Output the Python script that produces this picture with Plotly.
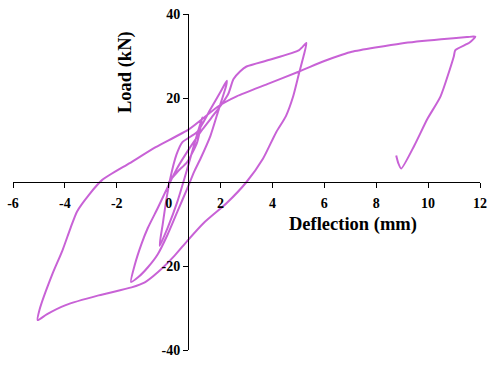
import plotly.graph_objects as go

# Cycle 1 (small loop near origin)
c1_x = [0.0, 0.35, 0.72, 1.10, 1.29, 0.72, 0.34, -0.04, -0.35]
c1_y = [0.0, 2.5, 4.8, 9.5, 15.4, 3.2, -4.6, -10.9, -15.2]

# Cycle 2 (peak ~2.2 mm)
c2_x = [-0.23, -0.10, 0.05, 0.30, 0.53, 1.10, 1.61, 2.00, 2.24,
        2.22, 1.93, 1.61, 1.23, 0.98, 0.72, 0.34, -0.04, -0.42, -0.80, -1.18, -1.45]
c2_y = [-10.1, -4.6, 0.5, 6.5, 9.5, 11.9, 17.3, 21.5, 24.1,
        23.0, 17.3, 11.0, 5.6, 2.4, -1.5, -7.0, -12.5, -17.2, -20.3, -22.7, -23.8]

# Cycle 3 (peak ~5.3 mm)
c3_x = [-1.30, -1.05, -0.80, -0.42, -0.10, 0.30, 0.80, 1.30, 1.80, 2.10, 2.30, 2.50,
        2.75, 3.00, 3.89, 5.03, 5.31,
        5.20, 5.03, 4.80, 4.52, 4.14, 3.64, 3.00, 2.24, 1.36, 0.72, 0.22, -0.42, -0.92,
        -1.43, -2.70, -3.97, -4.70, -5.05]
c3_y = [-19.6, -14.8, -10.9, -6.2, -2.0, 3.0, 8.0, 12.5, 16.5, 19.0, 21.0, 24.5,
        26.3, 27.5, 29.1, 31.4, 33.1,
        30.0, 26.0, 20.4, 15.7, 11.8, 5.6, 0.0, -5.0, -9.7, -14.0, -17.6, -21.5, -23.9,
        -25.1, -27.0, -29.3, -31.5, -32.9]

# Cycle 4 (peak ~11.8 mm) and final unloading
c4_x = [-4.98, -4.48, -4.10, -3.78, -3.53, -3.08, -2.57, -1.50, -0.50, 0.79, 1.93,
        2.62, 3.80, 5.03, 6.00, 6.68, 7.06, 8.96, 10.50, 11.50, 11.82,
        11.60, 11.05, 10.99, 10.48, 9.97, 9.47, 8.96, 8.85, 8.77]
c4_y = [-30.5, -21.9, -16.4, -10.9, -7.0, -3.1, 0.45, 4.5, 8.3, 12.6, 18.1,
        20.4, 23.3, 26.3, 28.8, 30.3, 31.0, 33.0, 34.0, 34.5, 34.6,
        33.2, 31.4, 29.9, 20.4, 15.0, 8.7, 3.2, 4.5, 6.3]

deflection = c1_x + c2_x + c3_x + c4_x
load = c1_y + c2_y + c3_y + c4_y

x_ticks = [-6, -4, -2, 0, 2, 4, 6, 8, 10, 12]
y_ticks = [-40, -20, 20, 40]

font_family = "Liberation Serif, Times New Roman, serif"

fig = go.Figure()
fig.add_trace(go.Scatter(
    x=deflection, y=load, mode="lines",
    line=dict(color="#C862D6", width=2, shape="spline", smoothing=0.6),
    hoverinfo="skip", showlegend=False,
))

W, H = 494, 365
ml, mr, mt, mb = 13.3, 7.3, 13.3, 11.0
pw = W - ml - mr
ph = H - mt - mb


def px_to_paper(px, py):
    return (px - ml) / pw, (H - py - mb) / ph


xt_x, xt_y = px_to_paper(358, 227)
yt_x, yt_y = px_to_paper(128, 72)

fig.update_layout(
    width=W, height=H,
    margin=dict(l=ml, r=mr, t=mt, b=mb),
    paper_bgcolor="white", plot_bgcolor="white",
    xaxis=dict(
        range=[-6, 12], anchor="free", position=0.5,
        showline=True, linecolor="black", linewidth=1.3,
        ticks="outside", ticklen=5, tickwidth=1.2, tickcolor="black",
        tickvals=x_ticks, ticktext=[str(v) for v in x_ticks],
        showgrid=False, zeroline=False, ticklabelstandoff=3,
        tickfont=dict(family=font_family, size=14, color="black", weight="bold"),
    ),
    yaxis=dict(
        range=[-40, 40], anchor="free", position=(0.75 + 6) / 18,
        showline=True, linecolor="black", linewidth=1.3,
        ticks="outside", ticklen=5, tickwidth=1.2, tickcolor="black",
        tickvals=y_ticks, ticktext=[str(v) for v in y_ticks],
        showgrid=False, zeroline=False,
        tickfont=dict(family=font_family, size=14, color="black", weight="bold"),
    ),
    annotations=[
        dict(text="Deflection (mm)", x=xt_x, y=xt_y, xref="paper", yref="paper",
             xanchor="center", yanchor="middle",
             showarrow=False, font=dict(family=font_family, size=18.5, color="black", weight="bold")),
        dict(text="Load (kN)", x=yt_x, y=yt_y, xref="paper", yref="paper", textangle=-90,
             xanchor="center", yanchor="middle",
             showarrow=False, font=dict(family=font_family, size=18.5, color="black", weight="bold")),
    ],
)

fig.write_html("out.html")
